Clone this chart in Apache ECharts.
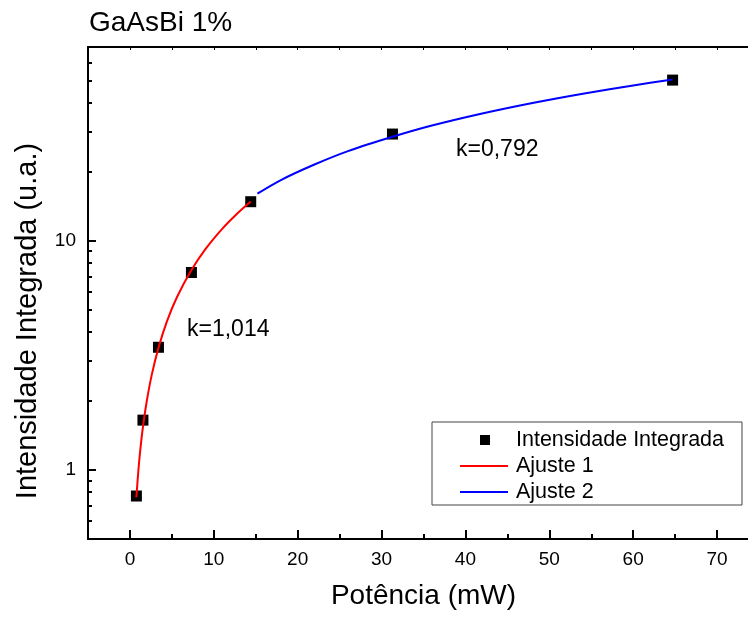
<!DOCTYPE html>
<html>
<head>
<meta charset="utf-8">
<script src="https://cdn.jsdelivr.net/npm/echarts@6/dist/echarts.min.js"></script>
<style>
  html, body { margin: 0; padding: 0; background: #fff; }
  #chart { width: 748px; height: 618px; }
</style>
</head>
<body>
<div id="chart"></div>
<script>
// Measured integrated intensity vs. excitation power
const powerMW = [0.77, 1.55, 3.40, 7.33, 14.4, 31.3, 64.7];
const intensity = [0.77, 1.65, 3.43, 7.27, 14.8, 29.2, 50.2];

// Fit 1 (low power, k = 1,014)
const fit1X = [0.77, 1.0, 1.25, 1.55, 2.0, 2.6, 3.4, 4.4, 5.6, 7.3, 9.0, 11.0, 12.8, 14.4];
const fit1Y = [0.76, 0.99, 1.24, 1.54, 1.99, 2.60, 3.41, 4.44, 5.67, 7.42, 9.19, 11.27, 13.15, 14.83];

// Fit 2 (high power, k = 0,792)
const fit2X = [15.2, 18, 22, 26, 31.3, 36, 42, 48, 54, 60, 64.7];
const fit2Y = [16.05, 18.4, 21.5, 24.6, 28.4, 31.8, 35.9, 39.9, 43.8, 47.6, 50.5];

// Tick positions
const xMajorTicks = [0, 10, 20, 30, 40, 50, 60, 70];
const xMinorTicks = [5, 15, 25, 35, 45, 55, 65, 75];
const xTopTicks = [0, 5, 10, 15, 20, 25, 30, 35, 40, 45, 50, 55, 60, 65, 70, 75];
const yMajorTicks = [1, 10];
const yMinorTicks = [0.6, 0.7, 0.8, 0.9, 2, 3, 4, 5, 6, 7, 8, 9, 20, 30, 40, 50, 60];

const FONT = '"Liberation Sans", Arial, sans-serif';
const pairs = (xs, ys) => xs.map((x, i) => [x, ys[i]]);

// Legend glyphs: a small square and a short horizontal stroke
const SQUARE_ICON = 'path://M0,0M48,14M20,2L30,2L30,12L20,12Z';
const LINE_ICON = 'path://M0,0M48,14M0,6L48,6L48,8L0,8Z';

const chart = echarts.init(document.getElementById('chart'), null, { renderer: 'canvas' });

const axisLine = { show: true, onZero: false, lineStyle: { color: '#000', width: 2 } };

chart.setOption({
  animation: false,
  backgroundColor: '#fff',
  title: {
    text: 'GaAsBi 1%',
    left: 84,
    top: 4,
    textStyle: { fontFamily: FONT, fontSize: 28, fontWeight: 'normal', color: '#000' }
  },
  grid: { left: 88, top: 47, right: -11, bottom: 79, containLabel: false, outerBoundsMode: 'none' },
  legend: {
    orient: 'vertical',
    left: 432,
    top: 422,
    padding: [7, 18, 2, 28],
    borderColor: '#444',
    borderWidth: 1,
    itemWidth: 48,
    itemHeight: 14,
    itemGap: 4,
    itemStyle: { opacity: 1 },
    textStyle: { fontFamily: FONT, fontSize: 21.5, color: '#000', lineHeight: 22, padding: [0, 0, 0, 3] },
    data: [
      { name: 'Intensidade Integrada', icon: SQUARE_ICON },
      { name: 'Ajuste 1', icon: LINE_ICON },
      { name: 'Ajuste 2', icon: LINE_ICON }
    ]
  },
  xAxis: [
    {
      type: 'value', min: -5, max: 75, position: 'bottom',
      name: 'Potência (mW)', nameLocation: 'middle', nameGap: 43,
      nameTextStyle: { fontFamily: FONT, fontSize: 28, color: '#000' },
      axisLine: axisLine,
      axisTick: { show: true, inside: true, length: 9, customValues: xMajorTicks, lineStyle: { color: '#000', width: 2 } },
      axisLabel: { show: true, margin: 11, customValues: xMajorTicks, fontFamily: FONT, fontSize: 19, color: '#000' },
      splitLine: { show: false }
    },
    {
      type: 'value', min: -5, max: 75, position: 'bottom',
      axisLine: { show: false, onZero: false },
      axisTick: { show: true, inside: true, length: 5, customValues: xMinorTicks, lineStyle: { color: '#000', width: 2 } },
      axisLabel: { show: false },
      splitLine: { show: false }
    },
    {
      type: 'value', min: -5, max: 75, position: 'top',
      axisLine: axisLine,
      axisTick: { show: true, inside: true, length: 3, customValues: xTopTicks, lineStyle: { color: '#000', width: 1 } },
      axisLabel: { show: false },
      splitLine: { show: false }
    }
  ],
  yAxis: [
    {
      type: 'log', logBase: 10, min: 0.5, max: 70, position: 'left',
      name: 'Intensidade Integrada (u.a.)', nameLocation: 'middle', nameGap: 46, nameRotate: 90,
      nameTextStyle: { fontFamily: FONT, fontSize: 29, color: '#000', padding: [0, 56, 0, 0] },
      axisLine: axisLine,
      axisTick: { show: true, inside: true, length: 8, customValues: yMajorTicks, lineStyle: { color: '#000', width: 2 } },
      axisLabel: { show: true, margin: 12, customValues: yMajorTicks, fontFamily: FONT, fontSize: 19, color: '#000' },
      splitLine: { show: false }
    },
    {
      type: 'log', logBase: 10, min: 0.5, max: 70, position: 'left',
      axisLine: { show: false, onZero: false },
      axisTick: { show: true, inside: true, length: 4, customValues: yMinorTicks, lineStyle: { color: '#000', width: 2 } },
      axisLabel: { show: false },
      splitLine: { show: false }
    }
  ],
  graphic: [
    { type: 'text', left: 187, top: 318, style: { text: 'k=1,014', font: '23px ' + FONT, fill: '#000' } },
    { type: 'text', left: 456, top: 138, style: { text: 'k=0,792', font: '23px ' + FONT, fill: '#000' } }
  ],
  series: [
    {
      name: 'Intensidade Integrada', type: 'scatter',
      xAxisIndex: 0, yAxisIndex: 0,
      symbol: 'rect', symbolSize: 11,
      itemStyle: { color: '#000', opacity: 1 },
      z: 2,
      data: pairs(powerMW, intensity)
    },
    {
      name: 'Ajuste 1', type: 'line',
      xAxisIndex: 0, yAxisIndex: 0,
      symbol: 'none', smooth: 0.3,
      lineStyle: { color: '#ff0000', width: 2 },
      itemStyle: { color: '#ff0000' },
      z: 3,
      data: pairs(fit1X, fit1Y)
    },
    {
      name: 'Ajuste 2', type: 'line',
      xAxisIndex: 0, yAxisIndex: 0,
      symbol: 'none', smooth: 0.3,
      lineStyle: { color: '#0000ff', width: 2 },
      itemStyle: { color: '#0000ff' },
      z: 3,
      data: pairs(fit2X, fit2Y)
    }
  ]
});
</script>
</body>
</html>
